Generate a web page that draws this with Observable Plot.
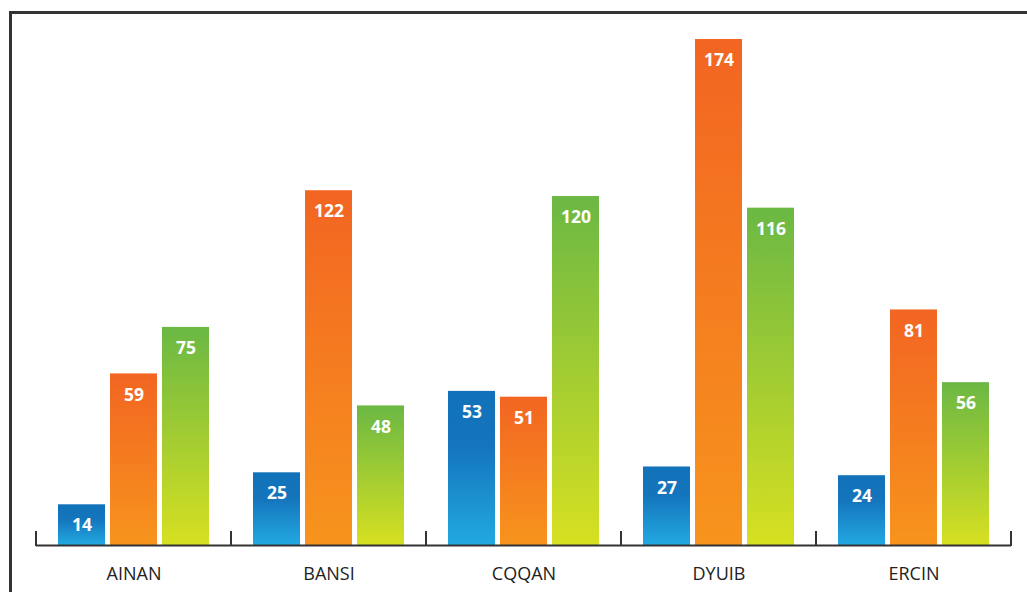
<!DOCTYPE html>
<html>
<head>
<meta charset="utf-8">
<script src="https://cdn.jsdelivr.net/npm/d3@7"></script>
<script src="https://cdn.jsdelivr.net/npm/@observablehq/plot@0.6"></script>
<style>
  html, body { margin: 0; padding: 0; background: #fff; }
  #chart { position: relative; width: 1027px; height: 592px; }
  svg { display: block; }
</style>
</head>
<body>
<div id="chart"></div>
<script>
const categories = ["AINAN", "BANSI", "CQQAN", "DYUIB", "ERCIN"];
const series = ["s1", "s2", "s3"];
const s1Values = [14, 25, 53, 27, 24];
const s2Values = [59, 122, 51, 174, 81];
const s3Values = [75, 48, 120, 116, 56];
const gradientIds = { s1: "gBlue", s2: "gOrange", s3: "gGreen" };

const data = [];
categories.forEach((c, i) => {
  data.push({ cat: c, series: "s1", value: s1Values[i] });
  data.push({ cat: c, series: "s2", value: s2Values[i] });
  data.push({ cat: c, series: "s3", value: s3Values[i] });
});

const plot = Plot.plot({
  width: 1027,
  height: 592,
  marginLeft: 36,
  marginRight: 16,
  marginTop: 39,
  marginBottom: 47,
  style: { fontFamily: "'Open Sans', sans-serif", background: "#fff" },
  fx: { domain: categories, padding: 0, label: null, axis: "bottom", tickSize: 0, tickPadding: 22, fontSize: 18 },
  x: { domain: series, paddingInner: 0.096, paddingOuter: 0.423, axis: null },
  y: { domain: [0, 174], axis: null },
  marks: [
    Plot.barY(data, { fx: "cat", x: "series", y: "value", fill: d => `url(#${gradientIds[d.series]})` }),
    Plot.text(data, { fx: "cat", x: "series", y: "value", text: d => String(d.value), dy: 21, fill: "#fff", fontWeight: "bold", fontSize: 17.5 }),
    Plot.ruleY([0], { stroke: "#333", strokeWidth: 2 })
  ]
});

document.getElementById("chart").appendChild(plot);

const svg = d3.select(plot);
svg.selectAll("g[aria-label='fx-axis tick label']").attr("fill", "#222").attr("font-size", 18).style("font-size", "18px");

const defs = svg.insert("defs", ":first-child");
function grad(id, stops) {
  const g = defs.append("linearGradient").attr("id", id)
    .attr("x1", 0).attr("y1", 0).attr("x2", 0).attr("y2", 1);
  stops.forEach(([o, c]) => g.append("stop").attr("offset", o).attr("stop-color", c));
}
grad("gBlue", [["0%", "#1172BA"], ["35%", "#1474BC"], ["100%", "#22A9E1"]]);
grad("gOrange", [["0%", "#F26522"], ["100%", "#F7941D"]]);
grad("gGreen", [["0%", "#6BB844"], ["100%", "#D7E021"]]);

// group boundary ticks on the baseline, placed with the fx scale
const fx = plot.scale("fx");
const y = plot.scale("y");
const y0 = y.apply(0);
const bounds = categories.map(c => fx.apply(c));
bounds.push(fx.apply(categories[categories.length - 1]) + fx.bandwidth);
const tickG = svg.append("g").attr("stroke", "#333").attr("stroke-width", 2);
bounds.forEach(b => {
  tickG.append("line").attr("x1", b).attr("x2", b).attr("y1", y0 + 1).attr("y2", y0 - 14);
});

// outer frame (top and left)
svg.append("path").attr("d", "M10.5,592 V12.5 H1027").attr("fill", "none").attr("stroke", "#333").attr("stroke-width", 3);
</script>
</body>
</html>
